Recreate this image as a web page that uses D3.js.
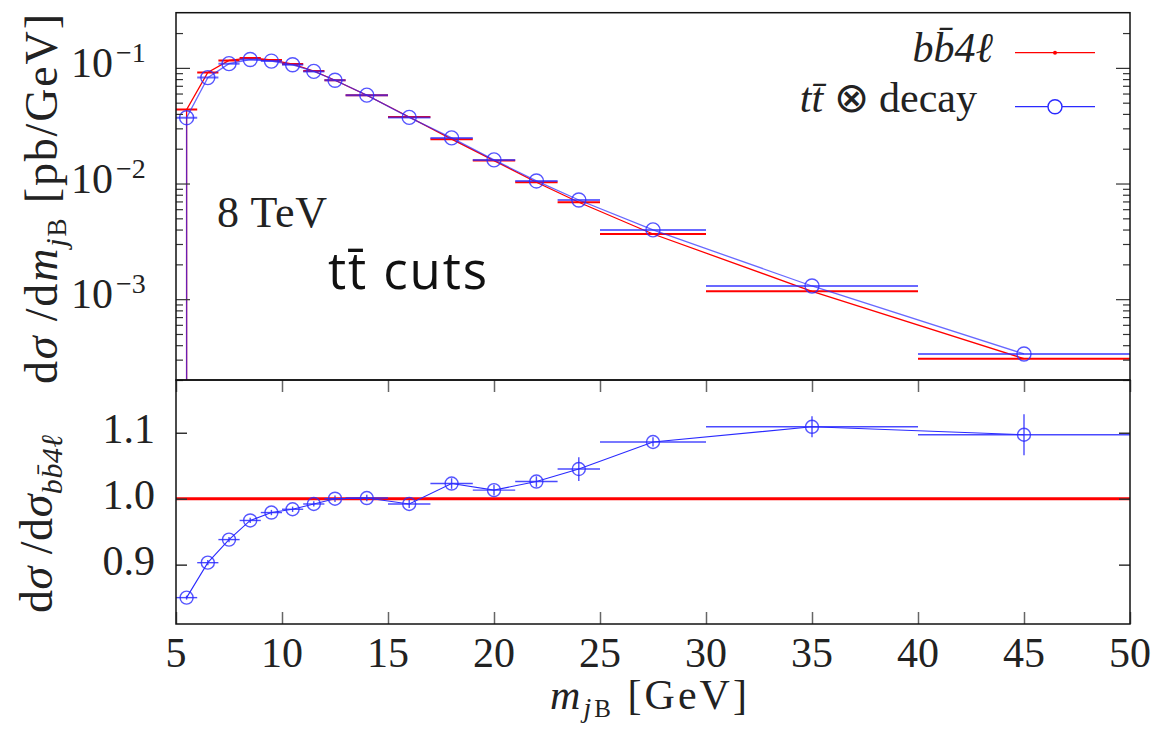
<!DOCTYPE html>
<html><head><meta charset="utf-8">
<script src="https://cdn.jsdelivr.net/npm/d3@7"></script>
<style>
body{margin:0;background:#fff;}
svg{display:block;}
</style></head>
<body><svg id="c" width="1151" height="730"></svg>
<script>
// ---- data ----
const binLow  = [5,6,7,8,9,10,11,12,13,15,17,19,21,23,25,30,40];
const binHigh = [6,7,8,9,10,11,12,13,15,17,19,21,23,25,30,40,50];
const xCenter = [5.5,6.5,7.5,8.5,9.5,10.5,11.5,12.5,14,16,18,20,22,24,27.5,35,45];
const bb4l    = [0.0436,0.0912,0.116,0.122,0.117,0.108,0.094,0.0782,0.058,0.0376,0.0242,0.0158,0.01026,0.00689,0.00366,0.00117,0.000306];
const ttDecay = [0.0371,0.0824,0.1088,0.118,0.1145,0.1063,0.0932,0.0782,0.0581,0.0373,0.0248,0.0160,0.01053,0.0072,0.00397,0.0013,0.000336];
const ratio   = [0.850,0.903,0.938,0.967,0.979,0.984,0.992,1.000,1.001,0.992,1.023,1.013,1.026,1.045,1.086,1.109,1.097];
const ratioErr= [0.003,0.004,0.004,0.004,0.004,0.004,0.004,0.005,0.005,0.006,0.008,0.008,0.008,0.018,0.007,0.016,0.031];
const xTicks = [5,10,15,20,25,30,35,40,45,50];
const ratioTicks = [0.9,1.0,1.1];
const logMajor = [1e-3,1e-2,1e-1];
const logExp = ["−3","−2","−1"];

// ---- layout ----
const L=176, R=1130, T=12.7, M=380, B=624;
const RED="#ff0000", BLUE="#2a2aff";
const SERIF="'Liberation Serif','Times New Roman',serif";
const svg=d3.select("#c");
const x=d3.scaleLinear().domain([5,50]).range([L,R]);
const yT=d3.scaleLog().domain([2e-4,0.3]).range([M,T]);
const yB=d3.scaleLinear().domain([0.81,1.18]).range([B,M]);

const idx=d3.range(xCenter.length);
function stext(sel){return sel.append("text").attr("font-family",SERIF).attr("fill","#222");}

// clip paths
svg.append("clipPath").attr("id","cpT").append("rect").attr("x",L).attr("y",T).attr("width",R-L).attr("height",M-T);
svg.append("clipPath").attr("id","cpB").append("rect").attr("x",L).attr("y",M).attr("width",R-L).attr("height",B-M);

// ---- top panel ----
const gT=svg.append("g").attr("clip-path","url(#cpT)");
function topSeries(vals,color,op){
  const pts=[{x:xCenter[0],y:yT.domain()[0]}].concat(idx.map(i=>({x:xCenter[i],y:vals[i]})));
  gT.append("path").attr("d",d3.line().x(d=>x(d.x)).y(d=>yT(d.y))(pts))
    .attr("fill","none").attr("stroke",color).attr("stroke-width",1.3).attr("stroke-opacity",op);
  gT.selectAll(null).data(idx).join("line")
    .attr("x1",i=>x(binLow[i])).attr("x2",i=>x(binHigh[i]))
    .attr("y1",i=>yT(vals[i])).attr("y2",i=>yT(vals[i]))
    .attr("stroke",color).attr("stroke-width",2).attr("stroke-opacity",op);
}
topSeries(bb4l,RED,1);
topSeries(ttDecay,BLUE,0.7);
gT.selectAll(null).data(idx).join("circle")
  .attr("cx",i=>x(xCenter[i])).attr("cy",i=>yT(ttDecay[i])).attr("r",7)
  .attr("fill","none").attr("stroke",BLUE).attr("stroke-width",1.4).attr("stroke-opacity",0.8);

// log axis ticks (inward, both sides)
const minor=[];
for(let e=-4;e<=-1;e++) for(let k=2;k<=9;k++){const v=k*Math.pow(10,e); if(v>=2e-4&&v<=0.3) minor.push(v);}
function logAxis(gen,xpos){
  svg.append("g").attr("transform",`translate(${xpos},0)`)
    .call(gen(yT).tickValues(minor).tickSize(-7).tickFormat(""))
    .call(g=>{g.select(".domain").remove();g.selectAll("line").attr("stroke","#333").attr("stroke-width",1.2);});
  svg.append("g").attr("transform",`translate(${xpos},0)`)
    .call(gen(yT).tickValues(logMajor).tickSize(-14).tickFormat(""))
    .call(g=>{g.select(".domain").remove();g.selectAll("line").attr("stroke","#333").attr("stroke-width",1.2);});
}
logAxis(d3.axisLeft,L);
logAxis(d3.axisRight,R);
// log labels
logMajor.forEach((v,i)=>{
  stext(svg).attr("x",113).attr("y",yT(v)+9).attr("text-anchor","end").attr("font-size",42).text("10");
  stext(svg).attr("x",116).attr("y",yT(v)-6).attr("font-size",28).text(logExp[i]);
});

// ---- bottom panel ----
const gB=svg.append("g").attr("clip-path","url(#cpB)");
gB.append("line").attr("x1",x(5)).attr("x2",x(50)).attr("y1",yB(1)).attr("y2",yB(1))
  .attr("stroke",RED).attr("stroke-width",3);
gB.append("path").attr("d",d3.line().x(i=>x(xCenter[i])).y(i=>yB(ratio[i]))(idx))
  .attr("fill","none").attr("stroke",BLUE).attr("stroke-width",1.1);
gB.selectAll(null).data(idx).join("line")
  .attr("x1",i=>x(binLow[i])).attr("x2",i=>x(binHigh[i]))
  .attr("y1",i=>yB(ratio[i])).attr("y2",i=>yB(ratio[i]))
  .attr("stroke",BLUE).attr("stroke-width",1.4).attr("stroke-opacity",0.85);
gB.selectAll(null).data(idx).join("line")
  .attr("x1",i=>x(xCenter[i])).attr("x2",i=>x(xCenter[i]))
  .attr("y1",i=>yB(ratio[i]-ratioErr[i])).attr("y2",i=>yB(ratio[i]+ratioErr[i]))
  .attr("stroke",BLUE).attr("stroke-width",1.4).attr("stroke-opacity",0.85);
gB.selectAll(null).data(idx).join("circle")
  .attr("cx",i=>x(xCenter[i])).attr("cy",i=>yB(ratio[i])).attr("r",6.5)
  .attr("fill","none").attr("stroke",BLUE).attr("stroke-width",1.4).attr("stroke-opacity",0.8);

// bottom axes ticks
function tickStyle(c){return g=>{g.select(".domain").remove();g.selectAll("line").attr("stroke",c).attr("stroke-width",1.5);};}
svg.append("g").attr("transform",`translate(0,${B})`).call(d3.axisBottom(x).tickValues(xTicks).tickSize(-12).tickFormat("")).call(tickStyle("#666"));
svg.append("g").attr("transform",`translate(0,${M})`).call(d3.axisTop(x).tickValues(xTicks).tickSize(-12).tickFormat("")).call(tickStyle("#666"));
svg.append("g").attr("transform",`translate(${L},0)`).call(d3.axisLeft(yB).tickValues(ratioTicks).tickSize(-11).tickFormat("")).call(tickStyle("#333"));
svg.append("g").attr("transform",`translate(${R},0)`).call(d3.axisRight(yB).tickValues(ratioTicks).tickSize(-11).tickFormat("")).call(tickStyle("#333"));
ratioTicks.forEach(v=>{
  stext(svg).attr("x",155).attr("y",yB(v)+10).attr("text-anchor","end").attr("font-size",42).text(d3.format(".1f")(v));
});
xTicks.forEach(v=>{
  stext(svg).attr("x",x(v)).attr("y",667).attr("text-anchor","middle").attr("font-size",42).text(v);
});

// frames
svg.append("rect").attr("x",L).attr("y",T).attr("width",R-L).attr("height",M-T).attr("fill","none").attr("stroke","#111").attr("stroke-width",1.5);
svg.append("rect").attr("x",L).attr("y",M).attr("width",R-L).attr("height",B-M).attr("fill","none").attr("stroke","#111").attr("stroke-width",1.5);

// ---- texts ----
// x label
const xl=stext(svg).attr("x",550).attr("y",709).attr("font-size",42)
  .attr("textLength",197).attr("lengthAdjust","spacing");
xl.append("tspan").attr("font-style","italic").text("m");
xl.append("tspan").attr("font-size",28).attr("font-style","italic").attr("dy",8).text("j");
xl.append("tspan").attr("font-size",25).text("B");
xl.append("tspan").attr("dy",-8).text("  [GeV]");

// top y label
const yl=stext(svg).attr("font-size",46)
  .attr("transform","translate(57,384) rotate(-90)")
  .attr("textLength",370).attr("lengthAdjust","spacing");
yl.append("tspan").text("d");
yl.append("tspan").attr("font-style","italic").text("σ");
yl.append("tspan").text(" /d");
yl.append("tspan").attr("font-style","italic").text("m");
yl.append("tspan").attr("font-size",30).attr("font-style","italic").attr("dy",9).text("j");
yl.append("tspan").attr("font-size",27).text("B");
yl.append("tspan").attr("dy",-9).text("  [pb/GeV]");

// bottom y label
const yl2=stext(svg).attr("font-size",46)
  .attr("transform","translate(52,613) rotate(-90)")
  .attr("textLength",178).attr("lengthAdjust","spacing");
yl2.append("tspan").text("d");
yl2.append("tspan").attr("font-style","italic").text("σ");
yl2.append("tspan").text(" /d");
yl2.append("tspan").attr("font-style","italic").text("σ");
yl2.append("tspan").attr("font-size",30).attr("font-style","italic").attr("dy",10).text("bb\u03044ℓ");

// annotations
stext(svg).attr("x",217).attr("y",227).attr("font-size",44)
  .attr("textLength",110).attr("lengthAdjust","spacing").text("8 TeV");
svg.append("text").attr("x",328).attr("y",289).attr("font-size",51)
  .attr("font-family","'Open Sans','Noto Sans',sans-serif").attr("fill","#111")
  .attr("textLength",159).attr("lengthAdjust","spacing").text("tt\u0304 cuts");

// legend
const lg1=stext(svg).attr("x",993).attr("y",62).attr("text-anchor","end").attr("font-size",42);
lg1.append("tspan").attr("font-style","italic").text("bb\u03044ℓ");
svg.append("line").attr("x1",1015).attr("x2",1095).attr("y1",52.7).attr("y2",52.7).attr("stroke",RED).attr("stroke-width",1.3);
svg.append("circle").attr("cx",1055).attr("cy",52.7).attr("r",2).attr("fill",RED);
const lg2=stext(svg).attr("x",977).attr("y",112).attr("text-anchor","end").attr("font-size",42);
lg2.append("tspan").attr("font-style","italic").text("tt\u0304");
lg2.append("tspan").text(" ⊗ decay");
svg.append("line").attr("x1",1015).attr("x2",1095).attr("y1",106.7).attr("y2",106.7).attr("stroke",BLUE).attr("stroke-width",1.3);
svg.append("circle").attr("cx",1055).attr("cy",106.7).attr("r",7).attr("fill","#fff").attr("stroke",BLUE).attr("stroke-width",1.4);
</script></body></html>
